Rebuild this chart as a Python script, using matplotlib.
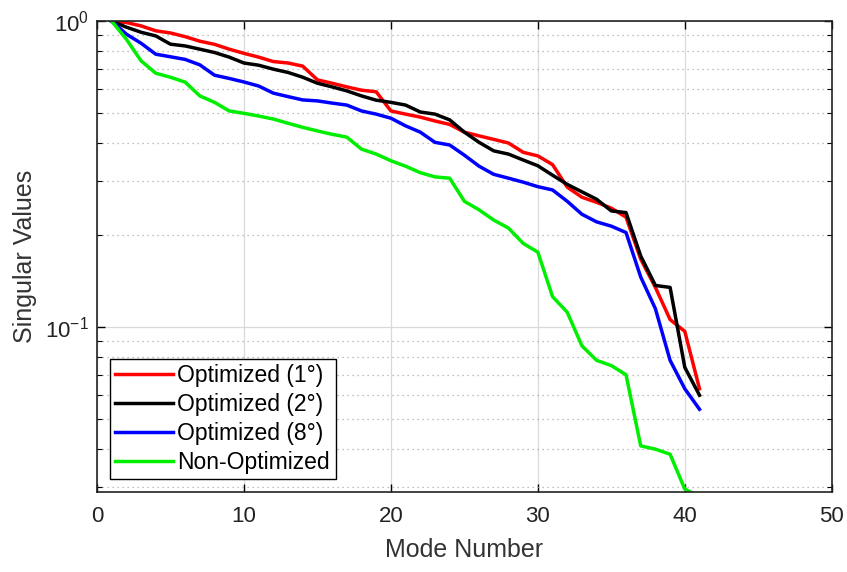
import matplotlib
matplotlib.use("Agg")
import matplotlib.pyplot as plt
from matplotlib.ticker import LogLocator, NullFormatter, FixedLocator
import numpy as np

modes = list(range(1, 42))

opt_1deg = [1.0, 0.99, 0.965, 0.93, 0.915, 0.89, 0.86, 0.84, 0.81, 0.785,
            0.763, 0.738, 0.73, 0.713, 0.643, 0.627, 0.61, 0.595, 0.588, 0.509,
            0.497, 0.486, 0.472, 0.46, 0.434, 0.422, 0.411, 0.40, 0.373, 0.363,
            0.34, 0.287, 0.266, 0.256, 0.245, 0.229, 0.167, 0.135, 0.106, 0.097,
            0.063]
opt_2deg = [1.0, 0.956, 0.92, 0.895, 0.841, 0.83, 0.81, 0.79, 0.763, 0.73,
            0.718, 0.697, 0.68, 0.656, 0.627, 0.61, 0.592, 0.57, 0.552, 0.543,
            0.532, 0.505, 0.497, 0.476, 0.434, 0.402, 0.377, 0.368, 0.352, 0.337,
            0.314, 0.293, 0.277, 0.262, 0.24, 0.237, 0.171, 0.137, 0.135, 0.074,
            0.06]
opt_8deg = [1.0, 0.907, 0.847, 0.78, 0.765, 0.75, 0.72, 0.666, 0.65, 0.633,
            0.614, 0.582, 0.567, 0.553, 0.549, 0.54, 0.532, 0.509, 0.497, 0.482,
            0.455, 0.434, 0.402, 0.394, 0.365, 0.336, 0.316, 0.307, 0.298, 0.288,
            0.281, 0.258, 0.234, 0.221, 0.214, 0.204, 0.146, 0.115, 0.078, 0.063,
            0.054]
non_opt = [1.0, 0.873, 0.742, 0.676, 0.656, 0.632, 0.57, 0.543, 0.509, 0.50,
           0.49, 0.479, 0.464, 0.45, 0.438, 0.427, 0.418, 0.382, 0.368, 0.35,
           0.336, 0.32, 0.31, 0.307, 0.258, 0.242, 0.224, 0.211, 0.188, 0.176,
           0.126, 0.112, 0.087, 0.078, 0.075, 0.070, 0.041, 0.040, 0.0385, 0.0296,
           0.028]

labels = ["Optimized (1\u00b0)", "Optimized (2\u00b0)", "Optimized (8\u00b0)", "Non-Optimized"]
colors = ["#ff0000", "#000000", "#0000ff", "#00ee00"]

plt.rcParams['font.family'] = ['Liberation Sans', 'DejaVu Sans']
plt.rcParams['mathtext.fontset'] = 'custom'
plt.rcParams['mathtext.rm'] = 'Liberation Sans'
plt.rcParams['mathtext.it'] = 'Liberation Sans'

fig = plt.figure(figsize=(8.47, 5.72), dpi=100)
ax = fig.add_axes([0.1145, 0.14, 0.8675, 0.823])

for ys, lab, c in zip([opt_1deg, opt_2deg, opt_8deg, non_opt], labels, colors):
    ax.plot(modes, ys, color=c, lw=2.5, label=lab, clip_on=True)

ax.set_yscale('log')
ax.set_xlim(0, 50)
ax.set_ylim(0.029, 1.0)
ax.set_xticks([0, 10, 20, 30, 40, 50])
ax.yaxis.set_major_locator(FixedLocator([0.1, 1.0]))
ax.set_yticklabels([r'$10^{-1}$', r'$10^{0}$'])
ax.yaxis.set_minor_locator(LogLocator(base=10, subs=np.arange(2, 10)))
ax.yaxis.set_minor_formatter(NullFormatter())

ax.grid(True, which='major', axis='both', color='#d9d9d9', lw=0.9, ls='-')
ax.grid(True, which='minor', axis='y', color='#aaaaaa', lw=0.9, ls=(0, (1, 3)))
ax.set_axisbelow(True)

ax.tick_params(which='both', direction='in', top=True, right=True,
               labelsize=16, labelcolor='#222222')
ax.tick_params(axis='x', which='major', pad=10)
ax.tick_params(axis='y', which='major', pad=6)
ax.tick_params(which='major', length=6, width=1)
ax.tick_params(which='minor', length=3.5, width=0.8)
for s in ax.spines.values():
    s.set_linewidth(1.2)
    s.set_color('#222222')

ax.set_xlabel("Mode Number", fontsize=18, color='#333333', labelpad=8)
ax.set_ylabel("Singular Values", fontsize=18, color='#333333', labelpad=6)

leg = ax.legend(loc='lower left', bbox_to_anchor=(0.0, 0.0), fontsize=16.5,
                frameon=True, fancybox=False, handlelength=2.5, handletextpad=0.2,
                borderpad=0.25, labelspacing=0.25, borderaxespad=0.55)
leg.get_frame().set_edgecolor('black')
leg.get_frame().set_linewidth(1.0)
leg.get_frame().set_alpha(1.0)

fig.savefig("out.png", dpi=100)
